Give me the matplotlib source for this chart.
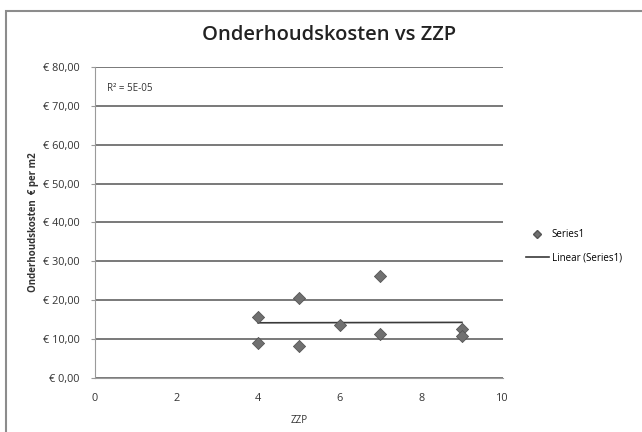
import numpy as np
import matplotlib
matplotlib.use("Agg")
import matplotlib.pyplot as plt
from matplotlib.lines import Line2D
from matplotlib.patches import Rectangle

zzp = [4, 4, 5, 5, 6, 7, 7, 9, 9]
kosten = [15.8, 9.0, 20.5, 8.3, 13.7, 26.2, 11.4, 12.6, 10.7]
yticks = [0, 10, 20, 30, 40, 50, 60, 70, 80]
ytick_labels = ["€ 0,00", "€ 10,00", "€ 20,00", "€ 30,00", "€ 40,00",
                "€ 50,00", "€ 60,00", "€ 70,00", "€ 80,00"]
xticks = [0, 2, 4, 6, 8, 10]

plt.rcParams['font.family'] = ['Open Sans', 'DejaVu Sans']

fig = plt.figure(figsize=(6.42, 4.32), dpi=100)
fig.patch.set_facecolor('white')
fig.patches.append(Rectangle((0.009, -0.01), 1.0, 0.985, transform=fig.transFigure,
                             fill=False, edgecolor='#8c8c8c', linewidth=1.5))

ax = fig.add_axes([0.148, 0.125, 0.635, 0.72])
ax.set_xlim(0, 10)
ax.set_ylim(0, 80)
ax.set_yticks(yticks)
ax.set_yticklabels(ytick_labels, fontsize=7.8, color='#333333')
ax.set_xticks(xticks)
ax.set_xticklabels([str(t) for t in xticks], fontsize=7.8, color='#333333')
ax.yaxis.grid(True, color='#555555', linewidth=1.1)
ax.set_axisbelow(True)
for s in ['top', 'right']:
    ax.spines[s].set_visible(False)
ax.spines['left'].set_color('#9a9a9a')
ax.spines['bottom'].set_color('#9a9a9a')
ax.tick_params(axis='y', length=3, color='#9a9a9a', pad=8)
ax.tick_params(axis='x', length=0, pad=11)

ax.scatter(zzp, kosten, marker='D', s=38, color='#707070', edgecolor='#555555',
           linewidth=0.6, zorder=3)

coef = np.polyfit(zzp, kosten, 1)
xs = np.array([min(zzp), max(zzp)])
ax.plot(xs, np.polyval(coef, xs), color='#3a3a3a', linewidth=1.2, zorder=2)

ax.text(0.03, 0.93, "R² = 5E-05", transform=ax.transAxes, fontsize=7,
        color='#333333', va='center')

ax.set_xlabel("ZZP", fontsize=7, color='#333333', labelpad=8)
ax.set_ylabel("Onderhoudskosten  € per m2", fontsize=7, fontweight='bold',
              color='#333333', labelpad=3)

fig.text(0.513, 0.918, "Onderhoudskosten vs ZZP", ha='center', va='center',
         fontsize=14.5, fontweight='semibold', color='#222222')

handles = [Line2D([], [], marker='D', linestyle='none', color='#707070',
                  markeredgecolor='#555555', markersize=4.5),
           Line2D([], [], color='#3a3a3a', linewidth=1.2)]
fig.legend(handles, ["Series1", "Linear (Series1)"], loc='center left',
           bbox_to_anchor=(0.805, 0.43), frameon=False, fontsize=7,
           handlelength=2.4, labelspacing=1.3, handletextpad=0.3)

fig.savefig("out.png", dpi=100)
